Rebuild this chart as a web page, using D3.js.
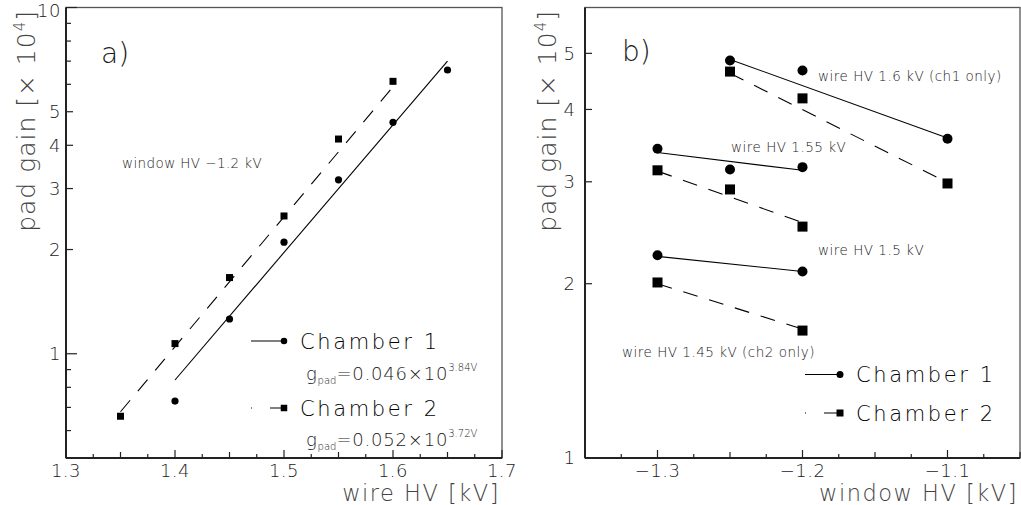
<!DOCTYPE html>
<html>
<head>
<meta charset="utf-8">
<script src="https://cdn.jsdelivr.net/npm/d3@7"></script>
<style>
  html, body { margin: 0; padding: 0; background: #fff; }
  svg { display: block; }
  text { font-family: "DejaVu Sans", sans-serif; font-weight: 200; fill: #1a1a1a; }
</style>
</head>
<body>
<svg id="chart" width="1021" height="505"></svg>
<script>
// ---- panel a) gain vs wire HV at window HV -1.2 kV ----
const ch1WireHV = [1.40, 1.45, 1.50, 1.55, 1.60, 1.65];
const ch1Gain   = [0.73, 1.26, 2.10, 3.18, 4.66, 6.60];
const ch2WireHV = [1.35, 1.40, 1.45, 1.50, 1.55, 1.60];
const ch2Gain   = [0.66, 1.07, 1.66, 2.50, 4.17, 6.12];
// exponential fits (endpoints)
const ch1FitHV   = [1.40, 1.65];
const ch1FitGain = [0.84, 7.00];
const ch2FitHV   = [1.35, 1.60];
const ch2FitGain = [0.68, 5.90];

const aXTicks = [1.3, 1.4, 1.5, 1.6, 1.7];
const aYTicks = [1, 2, 3, 4, 5, 10];
const aYMinor = [0.6, 0.7, 0.8, 0.9, 6, 7, 8, 9];

// ---- panel b) gain vs window HV for several wire HV settings ----
const bSets = ["1.6", "1.55", "1.5/1.45"];
const bCh1HV = [[-1.25, -1.20, -1.10], [-1.30, -1.25, -1.20], [-1.30, -1.20]];
const bCh1Gain = [[4.86, 4.67, 3.56], [3.42, 3.15, 3.18], [2.24, 2.10]];
const bCh2HV = [[-1.25, -1.20, -1.10], [-1.30, -1.25, -1.20], [-1.30, -1.20]];
const bCh2Gain = [[4.65, 4.18, 2.98], [3.14, 2.91, 2.51], [2.01, 1.66]];
// fitted lines (endpoints)
const bCh1FitHV = [[-1.25, -1.10], [-1.30, -1.20], [-1.30, -1.20]];
const bCh1FitGain = [[4.88, 3.57], [3.37, 3.14], [2.23, 2.10]];
const bCh2FitHV = [[-1.25, -1.10], [-1.30, -1.20], [-1.30, -1.20]];
const bCh2FitGain = [[4.62, 2.99], [3.13, 2.55], [2.00, 1.67]];

const bXTicks = [-1.3, -1.2, -1.1];
const bYTicks = [1, 2, 3, 4, 5];

const svg = d3.select("#chart");
const DASH = "15,12";

function frame(g, x0, x1, y0, y1) {
  g.append("rect").attr("x", x0).attr("y", y0).attr("width", x1 - x0).attr("height", y1 - y0)
    .attr("fill", "none").attr("stroke", "#555").attr("stroke-width", 1.3);
  g.append("line").attr("x1", x0).attr("x2", x1).attr("y1", y1).attr("y2", y1)
    .attr("stroke", "#222").attr("stroke-width", 2);
  g.append("line").attr("x1", x0).attr("x2", x0).attr("y1", y0).attr("y2", y1)
    .attr("stroke", "#222").attr("stroke-width", 2);
}

// ticks every `step`, longer at every 2nd and 4th step counted from a major value
function ticksX(g, x, y1, step, major) {
  const [lo, hi] = x.domain();
  const k0 = Math.ceil((lo - major) / step - 1e-6), k1 = Math.floor((hi - major) / step + 1e-6);
  d3.range(k0, k1 + 1).forEach(k => {
    const v = major + k * step;
    const m = ((k % 4) + 4) % 4;
    const len = m === 0 ? 8 : (m === 2 ? 6 : 4);
    g.append("line").attr("x1", x(v)).attr("x2", x(v)).attr("y1", y1).attr("y2", y1 - len)
      .attr("stroke", "#222").attr("stroke-width", 1.2);
  });
}

function ticksY(g, y, x0, vals, len) {
  vals.forEach(v => {
    g.append("line").attr("x1", x0).attr("x2", x0 + len).attr("y1", y(v)).attr("y2", y(v))
      .attr("stroke", "#222").attr("stroke-width", 1.2);
  });
}

function yTitle(g, cx) {
  const t = g.append("text").attr("transform", `translate(${cx},10) rotate(-90)`)
    .attr("text-anchor", "end").attr("dy", "0.35em")
    .style("font-size", "25px").style("letter-spacing", "1px").style("fill", "#444");
  t.append("tspan").text("pad gain [\u00D7 10");
  t.append("tspan").attr("dy", -10).style("font-size", "15px").text("4");
  t.append("tspan").attr("dy", 10).text("]");
}

function circles(g, x, y, xs, ys, r) {
  g.selectAll(null).data(xs.map((v, i) => [v, ys[i]])).join("circle")
    .attr("cx", d => x(d[0])).attr("cy", d => y(d[1])).attr("r", r).attr("fill", "#000");
}
function squares(g, x, y, xs, ys, s) {
  g.selectAll(null).data(xs.map((v, i) => [v, ys[i]])).join("rect")
    .attr("x", d => x(d[0]) - s / 2).attr("y", d => y(d[1]) - s / 2)
    .attr("width", s).attr("height", s).attr("fill", "#000");
}
function fitLine(g, x, y, xs, ys, dashed) {
  const line = d3.line().x(d => x(d[0])).y(d => y(d[1]));
  const p = g.append("path").datum(xs.map((v, i) => [v, ys[i]])).attr("d", line)
    .attr("fill", "none").attr("stroke", "#000").attr("stroke-width", 1.1);
  if (dashed) p.attr("stroke-dasharray", DASH);
}

function legendEntry(g, x0, xm, y, label, marker, dashed, size, ms) {
  const l = g.append("line").attr("x1", x0).attr("x2", xm).attr("y1", y).attr("y2", y)
    .attr("stroke", "#000").attr("stroke-width", 1.1);
  if (dashed) l.attr("stroke-dasharray", "16,18").attr("stroke-dashoffset", 15);
  if (marker === "circle") g.append("circle").attr("cx", xm).attr("cy", y).attr("r", ms / 2).attr("fill", "#000");
  else g.append("rect").attr("x", xm - ms / 2).attr("y", y - ms / 2).attr("width", ms).attr("height", ms).attr("fill", "#000");
  g.append("text").attr("x", xm + 16).attr("y", y).attr("dy", "0.36em")
    .style("font-size", size + "px").style("letter-spacing", "2.6px").style("fill", "#000").text(label);
}

function formula(g, x, y, a, b) {
  const t = g.append("text").attr("x", x).attr("y", y).style("font-size", "18px").style("letter-spacing", "0.8px");
  t.append("tspan").text("g");
  t.append("tspan").attr("dy", 4).style("font-size", "10px").style("letter-spacing", "0px").text("pad");
  t.append("tspan").attr("dy", -4).text("=" + a + "\u00D710");
  t.append("tspan").attr("dy", -9).style("font-size", "10px").style("letter-spacing", "0px").text(b);
}

// ================= panel a =================
{
  const X0 = 66, X1 = 502, Y0 = 7.5, Y1 = 458;
  const x = d3.scaleLinear().domain([1.3, 1.7]).range([X0, X1]);
  const y = d3.scaleLog().domain([0.5, 10]).range([Y1, Y0]);
  const g = svg.append("g");

  frame(g, X0, X1, Y0, Y1);
  ticksX(g, x, Y1, 0.025, 1.3);
  ticksY(g, y, X0, [1, 10], 11);
  ticksY(g, y, X0, [2, 3, 4, 5], 7);
  ticksY(g, y, X0, aYMinor, 5);

  g.selectAll(null).data(aXTicks).join("text")
    .attr("x", d => x(d)).attr("y", 471).attr("dy", "0.36em").attr("text-anchor", "middle")
    .style("font-size", "18px").style("letter-spacing", "0.5px").text(d => d3.format(".1f")(d));
  g.selectAll(null).data(aYTicks).join("text")
    .attr("x", 61).attr("y", d => Math.max(y(d), 11)).attr("dy", "0.36em").attr("text-anchor", "end")
    .style("font-size", "18px").style("letter-spacing", "0.5px").text(d => d);

  g.append("text").attr("x", 500).attr("y", 493).attr("dy", "0.36em").attr("text-anchor", "end")
    .style("font-size", "22.5px").style("letter-spacing", "1.5px").style("fill", "#444").text("wire HV [kV]");
  yTitle(g, 26);

  fitLine(g, x, y, ch2FitHV, ch2FitGain, true);
  fitLine(g, x, y, ch1FitHV, ch1FitGain, false);
  circles(g, x, y, ch1WireHV, ch1Gain, 3.6);
  squares(g, x, y, ch2WireHV, ch2Gain, 7);

  g.append("text").attr("x", 101).attr("y", 53).attr("dy", "0.36em")
    .style("font-size", "28px").text("a)");
  g.append("text").attr("x", 122).attr("y", 163).attr("dy", "0.36em")
    .style("font-size", "13.5px").style("letter-spacing", "0.4px").text("window HV \u22121.2 kV");

  legendEntry(g, 251, 284, 341, "Chamber 1", "circle", false, 21, 6.5);
  formula(g, 306, 380, "0.046", "3.84V");
  legendEntry(g, 251, 284, 408, "Chamber 2", "square", true, 21, 6.5);
  formula(g, 306, 446, "0.052", "3.72V");
}

// ================= panel b =================
{
  const X0 = 585, X1 = 1020, Y0 = 7.5, Y1 = 458;
  const x = d3.scaleLinear().domain([-1.35, -1.05]).range([X0, X1]);
  const y = d3.scaleLog().domain([1, 6]).range([Y1, Y0]);
  const g = svg.append("g");

  frame(g, X0, X1, Y0, Y1);
  ticksX(g, x, Y1, 0.025, -1.3);
  ticksY(g, y, X0, [2, 3, 4, 5], 7);

  g.selectAll(null).data(bXTicks).join("text")
    .attr("x", d => x(d)).attr("y", 471).attr("dy", "0.36em").attr("text-anchor", "middle")
    .style("font-size", "18px").style("letter-spacing", "0.5px").text(d => d3.format(".1f")(d).replace("-", "\u2212"));
  g.selectAll(null).data(bYTicks).join("text")
    .attr("x", 575).attr("y", d => y(d)).attr("dy", "0.36em").attr("text-anchor", "end")
    .style("font-size", "18px").text(d => d);

  g.append("text").attr("x", 1018).attr("y", 493).attr("dy", "0.36em").attr("text-anchor", "end")
    .style("font-size", "22.5px").style("letter-spacing", "1.5px").style("fill", "#444").text("window HV [kV]");
  yTitle(g, 547);

  bSets.forEach((s, i) => {
    fitLine(g, x, y, bCh2FitHV[i], bCh2FitGain[i], true);
    fitLine(g, x, y, bCh1FitHV[i], bCh1FitGain[i], false);
    circles(g, x, y, bCh1HV[i], bCh1Gain[i], 5);
    squares(g, x, y, bCh2HV[i], bCh2Gain[i], 10);
  });

  g.append("text").attr("x", 622).attr("y", 51).attr("dy", "0.36em")
    .style("font-size", "28px").text("b)");

  const notes = [
    ["wire HV 1.6 kV (ch1 only)", 818, 76],
    ["wire HV 1.55 kV", 731, 147],
    ["wire HV 1.5 kV", 818, 250],
    ["wire HV 1.45 kV (ch2 only)", 622, 352]
  ];
  g.selectAll(null).data(notes).join("text")
    .attr("x", d => d[1]).attr("y", d => d[2]).attr("dy", "0.36em")
    .style("font-size", "13.5px").style("letter-spacing", "0.5px").text(d => d[0]);

  legendEntry(g, 805, 840, 374.5, "Chamber 1", "circle", false, 21, 7);
  legendEntry(g, 805, 840, 413, "Chamber 2", "square", true, 21, 7);
}
</script>
</body>
</html>
